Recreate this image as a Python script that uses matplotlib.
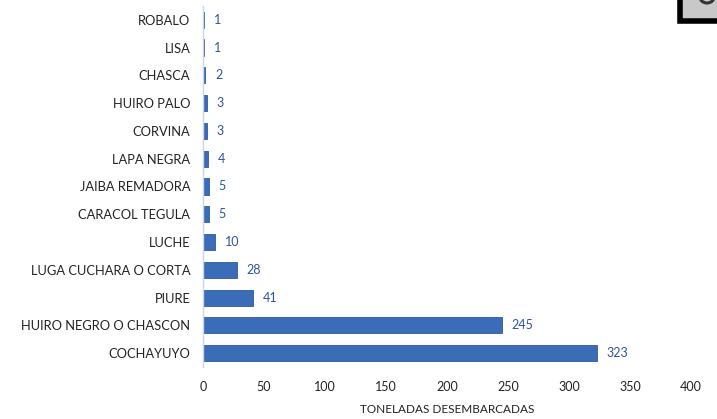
import matplotlib.pyplot as plt
from matplotlib.patches import Rectangle, Arc

# desembarque por especie (toneladas)
especies = ['COCHAYUYO', 'HUIRO NEGRO O CHASCON', 'PIURE', 'LUGA CUCHARA O CORTA',
            'LUCHE', 'CARACOL TEGULA', 'JAIBA REMADORA', 'LAPA NEGRA', 'CORVINA',
            'HUIRO PALO', 'CHASCA', 'LISA', 'ROBALO']
toneladas = [323, 245, 41, 28, 10, 5, 5, 4, 3, 3, 2, 1, 1]
xticks = [0, 50, 100, 150, 200, 250, 300, 350, 400]

plt.rcParams['font.family'] = ['Lato', 'DejaVu Sans']

fig = plt.figure(figsize=(7.17, 4.19), dpi=100)
ax = fig.add_axes([0.283, 0.124, 0.681, 0.862])

ypos = range(len(especies))
ax.barh(ypos, toneladas, height=0.58, color='#3a6cb8', edgecolor='#2d5a9c', linewidth=0.6)
for y, v in zip(ypos, toneladas):
    ax.text(v + 8, y, str(v), va='center', ha='left', fontsize=9, color='#2f5597')

ax.set_xlim(0, 400)
ax.set_ylim(-0.5, len(especies) - 0.5)
ax.set_yticks(list(ypos))
ax.set_yticklabels(especies, fontsize=9.3, color='#222222')
ax.set_xticks(xticks)
ax.set_xticklabels([str(t) for t in xticks], fontsize=9, color='#222222')
ax.tick_params(length=0, pad=9)
ax.tick_params(axis='x', pad=10)
ax.set_xlabel('TONELADAS DESEMBARCADAS', fontsize=8.5, color='#222222', labelpad=8)

for s in ['top', 'right', 'bottom']:
    ax.spines[s].set_visible(False)
ax.spines['left'].set_color('#c9d5e8')
ax.spines['left'].set_linewidth(1)

# recuadro cortado en la esquina superior
fig.patches.append(Rectangle((680 / 717, 1 - 21 / 419), 40 / 717, 25 / 419,
                             transform=fig.transFigure, facecolor='#c8c8c8',
                             edgecolor='black', linewidth=4, clip_on=False))
fig.patches.append(Arc((707 / 717, 1 + 3 / 419), 14 / 717, 12 / 419, theta1=180, theta2=360,
                       transform=fig.transFigure, color='#333333', linewidth=2.2))

fig.savefig('out.png', dpi=100)
